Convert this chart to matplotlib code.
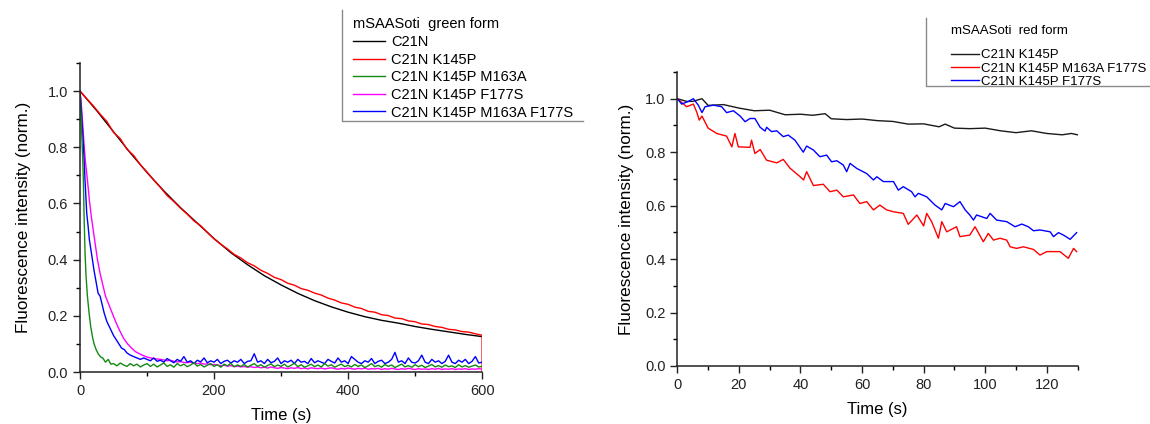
import numpy as np
import matplotlib
matplotlib.use("Agg")
import matplotlib.pyplot as plt
from matplotlib.ticker import MultipleLocator
from matplotlib.lines import Line2D

plt.rcParams["font.family"] = ["Liberation Sans", "DejaVu Sans"]

# ---- green form (left panel) ----
green_title = "mSAASoti  green form"
green_labels = ["C21N", "C21N K145P", "C21N K145P M163A",
                "C21N K145P F177S", "C21N K145P M163A F177S"]

t_black = [0, 25, 50, 75, 100, 125, 150, 175, 200, 225, 250, 275, 300, 325,
           350, 375, 400, 425, 450, 475, 500, 525, 550, 575, 600]
v_black = [1.0, 0.93, 0.855, 0.78, 0.71, 0.645, 0.585, 0.53, 0.475, 0.425,
           0.382, 0.343, 0.31, 0.28, 0.254, 0.232, 0.213, 0.197, 0.184, 0.174,
           0.162, 0.152, 0.143, 0.134, 0.126]

t_red = list(range(0, 610, 10)) + [600]
v_red = [1.0, 0.973, 0.947, 0.918, 0.892, 0.853, 0.831, 0.793, 0.771, 0.738,
         0.712, 0.683, 0.657, 0.628, 0.607, 0.583, 0.562, 0.538, 0.521, 0.497,
         0.474, 0.455, 0.438, 0.419, 0.406, 0.389, 0.378, 0.362, 0.351, 0.337,
         0.329, 0.316, 0.309, 0.297, 0.291, 0.281, 0.274, 0.263, 0.256, 0.246,
         0.241, 0.231, 0.226, 0.216, 0.213, 0.204, 0.201, 0.192, 0.19, 0.182,
         0.179, 0.171, 0.169, 0.162, 0.159, 0.152, 0.15, 0.144, 0.142, 0.136,
         0.131, 0.0]

t_green_early = [0, 2, 4, 5, 6, 7.5, 9, 11, 13.5, 16, 19, 21, 24, 27, 31, 34,
                 38, 42, 46, 50, 55, 60, 65, 70, 75, 80, 85, 90, 95]
v_green_early = [1.0, 0.88, 0.76, 0.68, 0.56, 0.42, 0.34, 0.27, 0.21, 0.16,
                 0.12, 0.10, 0.08, 0.065, 0.053, 0.05, 0.035, 0.045, 0.028,
                 0.03, 0.022, 0.032, 0.025, 0.02, 0.03, 0.022, 0.028, 0.018,
                 0.025]
v_green_base = [0.03, 0.02, 0.028, 0.018, 0.025, 0.032, 0.02, 0.026, 0.017, 0.03,
                0.022, 0.028, 0.019, 0.025, 0.033, 0.021, 0.027, 0.018, 0.024, 0.03,
                0.02, 0.026, 0.017, 0.028, 0.022, 0.031, 0.019, 0.025, 0.02, 0.027,
                0.018, 0.024, 0.03, 0.02, 0.026, 0.017, 0.023, 0.029, 0.019, 0.025,
                0.02, 0.028, 0.018, 0.024, 0.031, 0.019, 0.026, 0.017, 0.022, 0.028,
                0.019, 0.025, 0.018, 0.03, 0.021, 0.026, 0.017, 0.023, 0.028, 0.019,
                0.024, 0.018, 0.027, 0.02, 0.025, 0.016, 0.022, 0.03, 0.019, 0.024,
                0.017, 0.027, 0.02, 0.025, 0.016, 0.022, 0.028, 0.018, 0.023, 0.017,
                0.026, 0.019, 0.024, 0.016, 0.021, 0.027, 0.018, 0.023, 0.017, 0.025,
                0.019, 0.022, 0.016, 0.026, 0.018, 0.023, 0.017, 0.021, 0.025, 0.018,
                0.02]

t_blue_early = [0, 2, 4, 6, 7.5, 10, 12, 14, 16, 18.5, 21, 24, 27, 30, 33, 36,
                40, 43, 46, 50, 54, 58, 62, 66, 70, 75, 80, 85, 90, 95]
v_blue_early = [1.0, 0.93, 0.85, 0.76, 0.68, 0.565, 0.52, 0.47, 0.44, 0.40,
                0.36, 0.32, 0.28, 0.27, 0.24, 0.21, 0.18, 0.165, 0.15, 0.13,
                0.115, 0.10, 0.085, 0.08, 0.068, 0.06, 0.055, 0.05, 0.045, 0.05]
v_blue_base = [0.045, 0.04, 0.05, 0.038, 0.042, 0.035, 0.048, 0.04, 0.033, 0.045,
               0.038, 0.055, 0.035, 0.04, 0.03, 0.042, 0.036, 0.05, 0.033, 0.04,
               0.035, 0.045, 0.03, 0.038, 0.042, 0.032, 0.04, 0.035, 0.045, 0.03,
               0.038, 0.04, 0.065, 0.035, 0.04, 0.03, 0.045, 0.033, 0.038, 0.05,
               0.03, 0.04, 0.035, 0.042, 0.03, 0.045, 0.035, 0.038, 0.03, 0.048,
               0.033, 0.04, 0.035, 0.03, 0.045, 0.038, 0.032, 0.05, 0.035, 0.04,
               0.03, 0.055, 0.045, 0.035, 0.03, 0.04, 0.035, 0.048, 0.03, 0.038,
               0.042, 0.03, 0.035, 0.045, 0.07, 0.035, 0.04, 0.03, 0.05, 0.035,
               0.032, 0.04, 0.06, 0.035, 0.03, 0.045, 0.035, 0.04, 0.03, 0.038,
               0.06, 0.035, 0.03, 0.042, 0.035, 0.045, 0.03, 0.038, 0.055, 0.032,
               0.035]

t_mag_early = [0, 2, 4, 6, 8, 11, 14, 17, 20, 23, 26, 30, 34, 38, 43, 48, 53,
               59, 65, 71, 77, 83, 91, 100, 110, 120]
v_mag_early = [1.0, 0.95, 0.88, 0.81, 0.75, 0.684, 0.61, 0.55, 0.50, 0.45,
               0.40, 0.35, 0.31, 0.27, 0.24, 0.21, 0.18, 0.148, 0.12, 0.10,
               0.085, 0.072, 0.062, 0.053, 0.048, 0.045]
v_mag_base = [0.043, 0.04, 0.042, 0.038, 0.036, 0.037, 0.034, 0.033, 0.035, 0.031,
              0.03, 0.032, 0.028, 0.029, 0.026, 0.027, 0.025, 0.022, 0.024, 0.021,
              0.023, 0.019, 0.021, 0.018, 0.02, 0.017, 0.019, 0.016, 0.018, 0.015,
              0.017, 0.014, 0.018, 0.015, 0.013, 0.016, 0.014, 0.012, 0.015, 0.013,
              0.016, 0.012, 0.014, 0.011, 0.015, 0.013, 0.012, 0.014, 0.011, 0.013,
              0.015, 0.012, 0.01, 0.013, 0.011, 0.014, 0.012, 0.01, 0.013, 0.011,
              0.014, 0.01, 0.012, 0.011, 0.013, 0.009, 0.012, 0.01, 0.013, 0.011,
              0.009, 0.012, 0.01, 0.013, 0.011, 0.009, 0.012, 0.01, 0.011, 0.009,
              0.012, 0.01, 0.013, 0.009, 0.011, 0.01, 0.012, 0.009, 0.011, 0.01,
              0.012, 0.009, 0.011, 0.01, 0.012, 0.01]

# ---- red form (right panel) ----
red_title = "mSAASoti  red form"
red_labels = ["C21N K145P", "C21N K145P M163A F177S", "C21N K145P F177S"]

t_r_black = [0, 3, 5, 8, 10, 15, 20, 25, 30, 35, 40, 44, 48, 50, 55, 60, 65,
             70, 75, 80, 85, 87, 90, 95, 100, 105, 110, 115, 120, 125, 128, 130]
v_r_black = [1.0, 0.99, 0.99, 1.0, 0.975, 0.978, 0.965, 0.955, 0.957, 0.94,
             0.942, 0.938, 0.944, 0.925, 0.922, 0.924, 0.918, 0.915, 0.905,
             0.906, 0.895, 0.905, 0.89, 0.888, 0.89, 0.88, 0.873, 0.88, 0.87,
             0.865, 0.87, 0.865]

t_r_red = [0, 2, 3, 5.2, 6.3, 7.1, 8, 10, 12.8, 16, 17.7, 18.7, 19.8, 23.6,
           24.1, 25.2, 26.9, 29, 32.3, 34.4, 36.6, 39.9, 41, 42, 44.2, 47.4,
           49.6, 51.8, 53.9, 57.2, 59.3, 61.5, 63.7, 65.8, 68, 70.2, 73.4, 75,
           77.8, 80, 81, 82.6, 84.8, 85.9, 87.5, 90.7, 91.8, 95, 96.7, 99.4,
           101, 102.7, 104.8, 107, 108.1, 110.2, 112.4, 115.7, 117.8, 120,
           124.3, 127, 128.7, 129.7]
v_r_red = [1.0, 0.98, 0.97, 0.98, 0.95, 0.92, 0.935, 0.89, 0.87, 0.86, 0.82,
           0.87, 0.82, 0.818, 0.845, 0.795, 0.81, 0.77, 0.76, 0.773, 0.74,
           0.708, 0.696, 0.727, 0.675, 0.68, 0.652, 0.658, 0.633, 0.64, 0.608,
           0.615, 0.584, 0.602, 0.584, 0.577, 0.571, 0.53, 0.565, 0.524, 0.571,
           0.54, 0.478, 0.54, 0.502, 0.521, 0.484, 0.49, 0.521, 0.465, 0.496,
           0.471, 0.478, 0.471, 0.446, 0.44, 0.446, 0.436, 0.415, 0.428, 0.428,
           0.403, 0.44, 0.428]

t_r_blue = [0, 1.4, 3.6, 5.2, 6.8, 8, 9, 11.7, 14.4, 16, 18.2, 20.4, 22, 23.6,
            25.2, 26.9, 28.5, 29, 30.6, 32.3, 34.4, 36, 38.2, 40.9, 42, 44.2,
            46.3, 48.5, 50.1, 51.8, 53.9, 55, 56.1, 58.3, 61.5, 63.7, 64.8,
            66.9, 70.2, 71.8, 73.4, 76.1, 77.2, 78.3, 81, 83.7, 85.9, 87, 89.7,
            91.8, 93.5, 95, 96.2, 97.2, 100.5, 101.6, 103.7, 107, 109.7, 111.9,
            114, 115.7, 117.8, 121.1, 122.2, 123.8, 125.4, 127.6, 129.7]
v_r_blue = [1.0, 0.98, 0.99, 1.0, 0.976, 0.948, 0.97, 0.976, 0.97, 0.948,
            0.955, 0.935, 0.914, 0.926, 0.926, 0.893, 0.879, 0.893, 0.877, 0.88,
            0.858, 0.864, 0.845, 0.80, 0.823, 0.808, 0.783, 0.789, 0.764, 0.768,
            0.752, 0.727, 0.758, 0.739, 0.72, 0.696, 0.708, 0.69, 0.69, 0.658,
            0.671, 0.652, 0.633, 0.646, 0.633, 0.602, 0.584, 0.608, 0.596, 0.615,
            0.584, 0.565, 0.546, 0.565, 0.552, 0.571, 0.546, 0.54, 0.521, 0.531,
            0.521, 0.506, 0.509, 0.502, 0.484, 0.499, 0.49, 0.474, 0.499]

W, H = 1150, 424


def style_axes(ax, xmax, xmajor, xminor, ypad):
    ax.set_xlim(0, xmax)
    ax.set_ylim(0, 1.1)
    ax.spines["top"].set_visible(False)
    ax.spines["right"].set_visible(False)
    ax.xaxis.set_major_locator(MultipleLocator(xmajor))
    ax.xaxis.set_minor_locator(MultipleLocator(xminor))
    ax.yaxis.set_major_locator(MultipleLocator(0.2))
    ax.yaxis.set_minor_locator(MultipleLocator(0.1))
    ax.yaxis.set_major_formatter(plt.FormatStrFormatter("%.1f"))
    ax.tick_params(which="major", direction="out", length=5, width=1,
                   labelsize=10.5, colors="#222222")
    ax.tick_params(which="minor", direction="out", length=3, width=1)
    for s in ("left", "bottom"):
        ax.spines[s].set_linewidth(1.1)
        ax.spines[s].set_color("#222222")
    ax.set_xlabel("Time (s)", fontsize=12, labelpad=7)
    ax.set_ylabel("Fluorescence intensity (norm.)", fontsize=12.3,
                  labelpad=ypad)


def add_legend(ax, handles, labels, title, x, y_title, y_top, size,
               hlen, hpad, spacing):
    fig.text(x / W, 1 - y_title / H, title, fontsize=size, va="center",
             ha="left")
    ax.legend(handles, labels, loc="upper left",
              bbox_to_anchor=(x / W, 1 - y_top / H),
              bbox_transform=fig.transFigure, frameon=False,
              fontsize=size, handlelength=hlen, handletextpad=hpad,
              labelspacing=spacing, borderpad=0, borderaxespad=0)


fig = plt.figure(figsize=(11.5, 4.24), dpi=100)
ax1 = fig.add_axes([0.0696, 0.1226, 0.3496, 0.7288])
ax2 = fig.add_axes([0.589, 0.1368, 0.348, 0.6934])

t_base = 100 + 5 * np.arange(len(v_green_base))
t_mag_base = 125 + 5 * np.arange(len(v_mag_base))
lw = 1.0
l_black, = ax1.plot(t_black, v_black, color="black", lw=lw)
l_red, = ax1.plot(t_red, v_red, color="#ff0000", lw=lw)
l_mag, = ax1.plot(t_mag_early + list(t_mag_base), v_mag_early + v_mag_base,
                  color="#ff00ff", lw=lw)
l_blue, = ax1.plot(t_blue_early + list(t_base), v_blue_early + v_blue_base,
                   color="#0000ff", lw=lw)
l_green, = ax1.plot(t_green_early + list(t_base), v_green_early + v_green_base,
                    color="#138a13", lw=lw)
style_axes(ax1, 600, 200, 100, 12)
add_legend(ax1, [l_black, l_red, l_green, l_mag, l_blue], green_labels,
           green_title, 353, 24, 35, 10.5, 2.2, 0.4, 0.25)

r_black, = ax2.plot(t_r_black, v_r_black, color="#1a1a1a", lw=lw)
r_red, = ax2.plot(t_r_red, v_r_red, color="#ff0000", lw=lw)
r_blue, = ax2.plot(t_r_blue, v_r_blue, color="#0000ff", lw=lw)
style_axes(ax2, 130, 20, 10, 8)
add_legend(ax2, [r_black, r_red, r_blue], red_labels, red_title,
           951, 31, 49, 9.5, 2.1, 0.15, 0.08)

# partial legend frames (left and bottom edges only)
fig.add_artist(Line2D([342 / W, 342 / W, 583 / W], [1 - 10 / H, 1 - 121 / H, 1 - 121 / H],
                      transform=fig.transFigure, color="#8a8a8a", lw=1))
fig.add_artist(Line2D([926 / W, 926 / W, 1150 / W], [1 - 18 / H, 1 - 86 / H, 1 - 86 / H],
                      transform=fig.transFigure, color="#8a8a8a", lw=1))

fig.savefig("out.png", dpi=100)
